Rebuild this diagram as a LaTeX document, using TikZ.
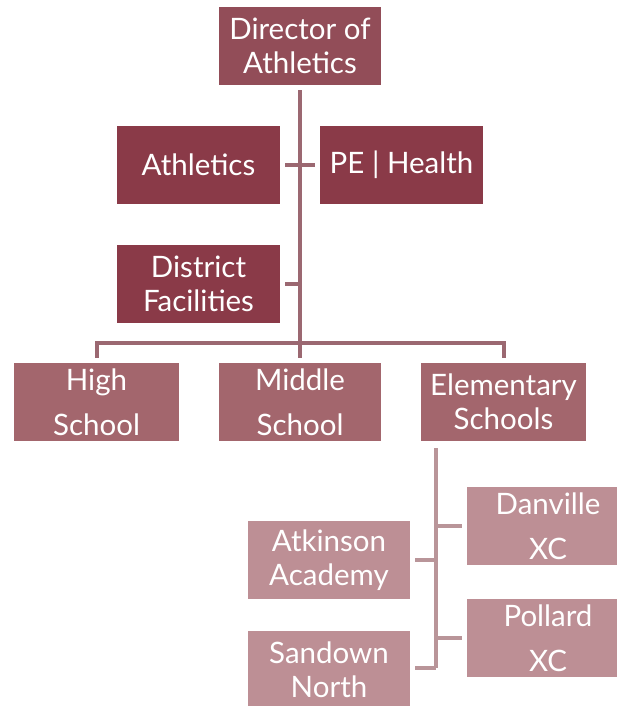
\documentclass[tikz,border=0pt]{standalone}
\usepackage{fontspec}
\setmainfont{Lato}
\definecolor{topc}{HTML}{924D58}
\definecolor{lvone}{HTML}{8A3A48}
\definecolor{lvtwo}{HTML}{A3666D}
\definecolor{lvthree}{HTML}{BD8F95}
\definecolor{linetwo}{HTML}{9B6871}
\definecolor{linethree}{HTML}{B99599}
\begin{document}
\begin{tikzpicture}[x=1pt,y=-1pt,
  box/.style={rectangle, inner sep=0pt, text=white, align=center,
    font=\fontsize{29.5}{34}\selectfont, minimum width=163pt, minimum height=78pt},
  topbox/.style={box, fill=topc, minimum width=162pt},
  onebox/.style={box, fill=lvone},
  twobox/.style={box, fill=lvtwo},
  threebox/.style={box, fill=lvthree, minimum width=162pt},
  ltwo/.style={draw=linetwo, line width=4pt},
  lthree/.style={draw=linethree, line width=4pt}]
\useasboundingbox (0,0) rectangle (616,706);

% nodes
\node[topbox] (dir) at (300,46) {Director of\\Athletics};
\node[onebox] (ath) at (198.5,165) {Athletics};
\node[onebox] (pe) at (401.5,165) {PE | Health};
\node[onebox] (fac) at (198.5,284) {District\\Facilities};
\node[twobox, minimum width=165pt] (hs) at (96.5,402) {High\\[11pt]School};
\node[twobox, minimum width=162pt] (ms) at (300,402) {Middle\\[11pt]School};
\node[twobox, minimum width=165pt] (el) at (503.5,402) {Elementary\\Schools};
\node[threebox] (dan) at (548,526) {Danville\\[11pt]XC};
\node[threebox] (pol) at (548,638) {Pollard\\[11pt]XC};
\node[threebox] (atk) at (329,560) {Atkinson\\Academy};
\node[threebox] (san) at (329,670) {Sandown\\North};

% trunk and bus
\coordinate (bus) at (300,343);
\draw[ltwo, shorten <=5pt] (dir.south) -- (bus);
\draw[ltwo, shorten <=5pt] (ath.east) -- ++(35,0);
\draw[ltwo, shorten >=5pt] (ath.east -| dir.south) -- (pe.west);
\draw[ltwo, shorten <=5pt] (fac.east) -- (fac.east -| dir.south);
\draw[ltwo, shorten <=5pt, shorten >=5pt] (hs.north) |- (bus) -| (el.north);
\draw[ltwo, shorten >=5pt] (bus) -- (ms.north);

% elementary sub-branch
\coordinate (st) at (436,441);
\coordinate (sb) at (436,668);
\draw[lthree, shorten <=7pt] (st) -- (sb);
\draw[lthree, shorten >=5pt] (st |- dan.west) -- (dan.west);
\draw[lthree, shorten >=5pt] (st |- pol.west) -- (pol.west);
\draw[lthree, shorten <=5pt] (atk.east) -- (atk.east -| st);
\draw[lthree, shorten <=5pt] (san.east |- sb) -- (sb);
\end{tikzpicture}
\end{document}
